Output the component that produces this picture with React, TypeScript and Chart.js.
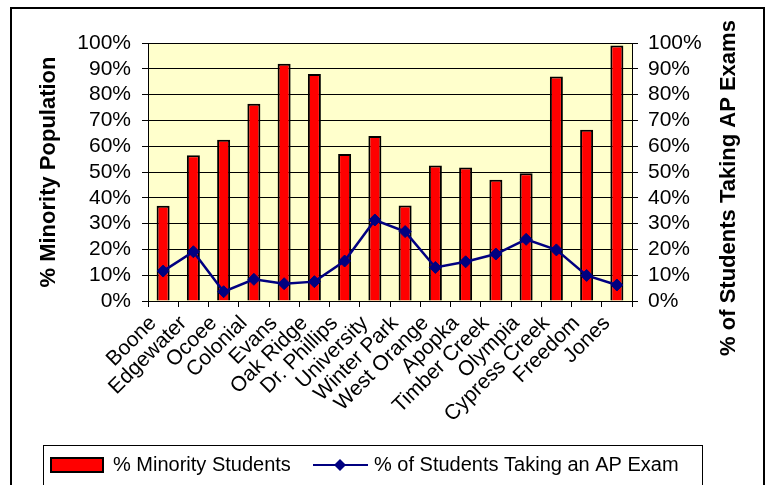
import React, { useEffect, useRef } from 'react';
import { Chart, registerables } from 'chart.js';

Chart.register(...registerables);

const schools = [
  'Boone', 'Edgewater', 'Ocoee', 'Colonial', 'Evans', 'Oak Ridge', 'Dr. Phillips', 'University',
  'Winter Park', 'West Orange', 'Apopka', 'Timber Creek', 'Olympia', 'Cypress Creek', 'Freedom', 'Jones',
];
const minorityPct = [36.9, 56.5, 62.5, 76.5, 92, 88, 57, 64, 37, 52.5, 51.7, 47, 49.5, 87, 66.4, 99];
const apExamPct = [11.6, 19.1, 3.6, 8.4, 6.7, 7.5, 15.5, 31.4, 26.9, 13, 15.2, 18.2, 23.9, 19.8, 9.9, 6.2];
const axisMin = 0;
const axisMax = 100;
const axisStep = 10;
const minorityLabel = '% Minority Students';
const apLabel = '% of Students Taking an AP Exam';
const leftTitle = '% Minority Population';
const rightTitle = '% of Students Taking AP Exams';

const FONT = '"Liberation Sans", Arial, sans-serif';

const decorPlugin = {
  id: 'decor',
  beforeDraw(chart: any) {
    const { ctx, chartArea } = chart;
    ctx.save();
    ctx.fillStyle = '#ffffff';
    ctx.fillRect(0, 0, chart.width, chart.height);
    ctx.fillStyle = '#FFFFCC';
    ctx.fillRect(chartArea.left, chartArea.top, chartArea.right - chartArea.left, chartArea.bottom - chartArea.top);
    ctx.restore();
  },
  afterDraw(chart: any) {
    const { ctx } = chart;
    ctx.save();
    // outer frame
    ctx.strokeStyle = '#000';
    ctx.lineWidth = 2;
    ctx.strokeRect(11, 8, 753, 500);

    // right axis title
    ctx.fillStyle = '#000';
    ctx.font = `bold 22px ${FONT}`;
    ctx.textAlign = 'center';
    ctx.textBaseline = 'middle';
    ctx.translate(729, 188);
    ctx.rotate(-Math.PI / 2);
    ctx.fillText(rightTitle, 0, 0);
    ctx.setTransform(1, 0, 0, 1, 0, 0);

    // legend
    const barDs = chart.data.datasets[0];
    const lineDs = chart.data.datasets[1];
    ctx.lineWidth = 1;
    ctx.strokeStyle = '#000';
    ctx.strokeRect(43.5, 445.5, 659, 60);
    ctx.fillStyle = barDs.backgroundColor;
    ctx.fillRect(51, 458, 52, 14);
    ctx.lineWidth = 2;
    ctx.strokeRect(51, 458, 52, 14);
    ctx.fillStyle = '#000';
    ctx.font = `20px ${FONT}`;
    ctx.textAlign = 'left';
    ctx.textBaseline = 'alphabetic';
    ctx.fillText(barDs.label, 113, 471);
    ctx.strokeStyle = lineDs.borderColor;
    ctx.lineWidth = 2;
    ctx.beginPath();
    ctx.moveTo(313, 465);
    ctx.lineTo(368, 465);
    ctx.stroke();
    ctx.fillStyle = lineDs.borderColor;
    ctx.beginPath();
    ctx.moveTo(340 - 6, 465);
    ctx.lineTo(340, 459);
    ctx.lineTo(340 + 6, 465);
    ctx.lineTo(340, 471);
    ctx.closePath();
    ctx.fill();
    ctx.fillStyle = '#000';
    ctx.fillText(lineDs.label, 374, 471);
    ctx.restore();
  },
};

export default function App() {
  const ref = useRef<HTMLCanvasElement>(null);
  useEffect(() => {
    if (!ref.current) return;
    const tickFont = { family: FONT, size: 21 };
    const chart = new Chart(ref.current, {
      type: 'bar',
      data: {
        labels: schools,
        datasets: [
          {
            type: 'bar',
            label: minorityLabel,
            data: minorityPct,
            backgroundColor: '#FF0000',
            borderColor: '#000000',
            borderWidth: 2,
            borderSkipped: 'bottom',
            barPercentage: 0.43,
            categoryPercentage: 1,
            yAxisID: 'y',
            order: 2,
          } as any,
          {
            type: 'line',
            label: apLabel,
            data: apExamPct,
            borderColor: '#000080',
            backgroundColor: '#000080',
            borderWidth: 2.5,
            pointStyle: 'rectRot',
            pointRadius: 6,
            pointBackgroundColor: '#000080',
            pointBorderColor: '#000080',
            pointBorderWidth: 1,
            tension: 0,
            yAxisID: 'y1',
            order: 1,
          } as any,
        ],
      },
      options: {
        animation: false,
        responsive: false,
        devicePixelRatio: 1,
        layout: { padding: { top: 43, left: 0, right: 0, bottom: 0 } },
        plugins: { legend: { display: false }, tooltip: { enabled: false } },
        scales: {
          x: {
            offset: true,
            grid: { display: true, drawOnChartArea: false, drawTicks: true, tickLength: 6, color: '#000', offset: true },
            border: { display: true, color: '#000', width: 1 },
            ticks: { color: '#000', font: { family: FONT, size: 21 }, maxRotation: 45, minRotation: 45, autoSkip: false, padding: 4, labelOffset: -10 },
            afterFit: (s: any) => { s.height = 184; },
          },
          y: {
            position: 'left',
            min: axisMin,
            max: axisMax,
            grid: { color: '#000', lineWidth: 1, tickLength: 6, drawTicks: true },
            border: { display: true, color: '#000', width: 1 },
            ticks: { stepSize: axisStep, autoSkip: false, color: '#000', font: tickFont, padding: 11, callback: (v: any) => `${v}%` },
            title: { display: true, text: leftTitle, color: '#000', font: { family: FONT, size: 22, weight: 'bold' }, padding: { top: 36, bottom: 0 } },
            afterFit: (s: any) => { s.width = 148; },
          },
          y1: {
            position: 'right',
            min: axisMin,
            max: axisMax,
            grid: { drawOnChartArea: false, color: '#000', tickLength: 6, drawTicks: true },
            border: { display: true, color: '#000', width: 1 },
            ticks: { stepSize: axisStep, autoSkip: false, color: '#000', font: tickFont, padding: 10, callback: (v: any) => `${v}%` },
            afterFit: (s: any) => { s.width = 138; },
          },
        },
      } as any,
      plugins: [decorPlugin],
    });
    return () => chart.destroy();
  }, []);
  return (
    <div style={{ position: 'fixed', left: 0, top: 0, width: 770, height: 485, background: '#fff' }}>
      <canvas ref={ref} width={770} height={485} style={{ display: 'block', width: 770, height: 485 }} />
    </div>
  );
}
